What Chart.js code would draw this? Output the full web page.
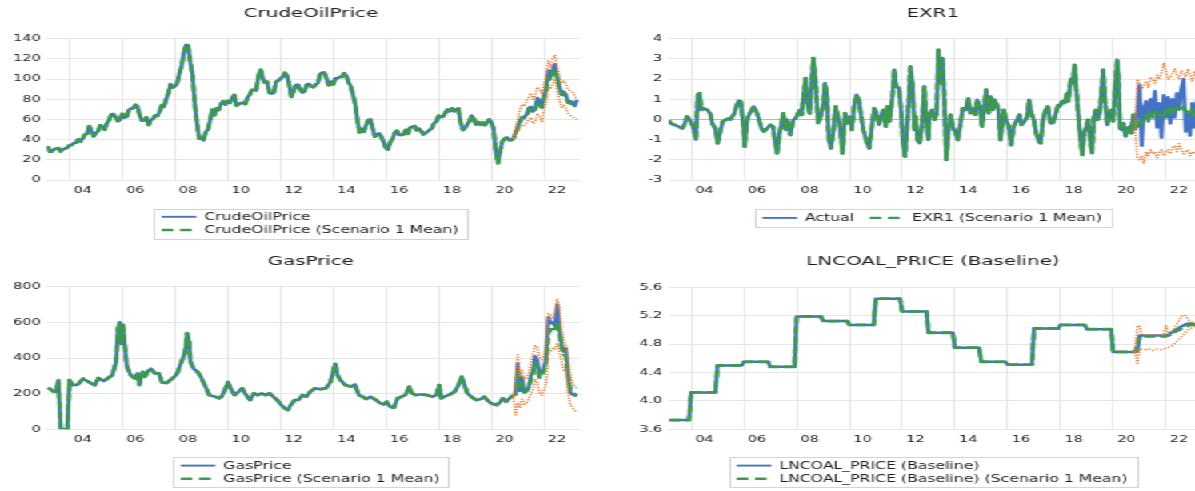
<!DOCTYPE html>
<html>
<head>
<meta charset="utf-8">
<title>Scenario 1 forecasts</title>
<script src="https://cdn.jsdelivr.net/npm/chart.js@4.4.1/dist/chart.umd.min.js"></script>
<style>
  html, body { margin: 0; padding: 0; background: #fff; overflow: hidden; width: 1195px; height: 491px; }
  #stage { position: absolute; left: 0; top: 0; width: 747px; height: 491px; transform-origin: 0 0; transform: scaleX(1.5997); }
  canvas { position: absolute; display: block; }
</style>
</head>
<body>
<div id="stage">
  <canvas id="oil" width="375" height="245" style="left:0;top:0"></canvas>
  <canvas id="exr" width="390" height="245" style="left:375px;top:0"></canvas>
  <canvas id="gas" width="375" height="246" style="left:0;top:245px"></canvas>
  <canvas id="coal" width="390" height="246" style="left:375px;top:245px"></canvas>
</div>
<script>
// ---------- axis ticks ----------
const gridYears  = [2004, 2006, 2008, 2010, 2012, 2014, 2016, 2018, 2020, 2022];
const tickLabels = ['04', '06', '08', '10', '12', '14', '16', '18', '20', '22'];
const oilTicks  = [0, 20, 40, 60, 80, 100, 120, 140];
const exrTicks  = [-3, -2, -1, 0, 1, 2, 3, 4];
const gasTicks  = [0, 200, 400, 600, 800];
const coalTicks = [3.6, 4.0, 4.4, 4.8, 5.2, 5.6];

// ---------- CrudeOilPrice: monthly, 2003M03 .. 2023M04 ----------
const oilActual = [
  33.5, 28.2, 28.1, 30.7, 30.8, 31.6, 28.3, 30.3, 31.1, 32.1,
  34.3, 34.7, 36.7, 36.8, 40.3, 38.0, 40.8, 44.9, 45.9, 53.3, 48.5, 43.2,
  46.8, 48.2, 54.2, 53.0, 49.8, 56.4, 59.0, 65.0, 65.6, 62.3, 58.3, 59.4,
  65.5, 61.6, 62.7, 69.4, 70.8, 71.0, 74.4, 73.0, 63.8, 58.9, 59.1, 62.0,
  54.5, 59.3, 60.4, 64.0, 63.5, 67.5, 74.1, 72.4, 79.9, 85.8, 94.8, 91.7,
  93.0, 95.4, 105.5, 112.6, 125.4, 133.9, 133.4, 116.7, 104.1, 76.6, 57.3, 41.1,
  41.7, 39.1, 47.9, 49.7, 59.0, 69.6, 64.2, 71.1, 69.4, 75.7, 78.0, 74.5,
  78.3, 76.4, 81.2, 84.3, 73.7, 75.3, 76.3, 76.6, 75.2, 81.9, 84.3, 89.2,
  89.2, 88.6, 102.9, 109.5, 100.9, 96.3, 97.3, 86.3, 85.5, 86.3, 97.2, 98.6,
  100.3, 102.2, 106.2, 103.3, 94.7, 82.3, 87.9, 94.1, 94.5, 89.5, 86.5, 87.9,
  94.8, 95.3, 92.9, 92.0, 94.5, 95.8, 104.7, 106.6, 106.3, 100.5, 93.9, 97.6,
  94.6, 100.8, 100.8, 102.1, 102.2, 105.8, 103.6, 96.5, 93.2, 84.4, 75.8, 59.3,
  47.2, 50.6, 47.8, 54.5, 59.3, 59.8, 50.9, 42.9, 45.5, 46.2, 42.4, 37.2,
  31.7, 30.3, 37.6, 40.8, 46.7, 48.8, 44.7, 44.7, 45.2, 49.8, 45.7, 52.0,
  52.5, 53.5, 49.3, 51.1, 48.5, 45.2, 46.6, 48.0, 49.8, 51.6, 56.6, 57.9,
  63.7, 62.2, 62.7, 66.3, 70.0, 67.9, 71.0, 68.1, 70.2, 70.8, 57.0, 49.5,
  51.4, 55.0, 58.2, 63.9, 60.8, 54.7, 57.4, 54.8, 57.0, 54.0, 57.0, 59.9,
  57.5, 50.5, 29.2, 16.6, 28.6, 38.3, 40.7, 42.3, 39.6, 39.4, 40.9, 47.0,
  52.0, 59.0, 62.3, 61.7, 65.2, 71.4, 72.5, 67.7, 71.5, 81.2, 78.7, 71.7,
  83.2, 91.6, 108.5, 101.8, 109.6, 114.8, 101.6, 93.7, 84.3, 87.6, 84.4, 76.4,
  78.1, 76.8, 73.3, 79.5
];
// Scenario 1 solution, monthly 2020M11 .. 2023M04
const oilMeanFc  = [41, 46, 51, 57, 61, 62, 64, 68, 70, 68, 70, 76, 77, 72, 80, 88, 102, 100, 106, 110, 100, 92, 85, 85, 83, 77, 76, 75, 73, 73];
const oilUpperFc = [41, 52, 60, 70, 75, 73, 78, 82, 86, 80, 84, 92, 90, 85, 95, 104, 118, 112, 120, 124, 112, 104, 96, 98, 95, 90, 88, 87, 83, 80];
const oilLowerFc = [41, 44, 48, 52, 55, 54, 57, 60, 62, 56, 58, 66, 63, 58, 68, 78, 92, 90, 96, 100, 88, 80, 72, 74, 71, 66, 64, 63, 61, 60];

// ---------- EXR1: history as [date, value], forecast monthly from 2020M11 ----------
const exrHist = [
  [2003.15,-0.05],[2003.23,-0.2],[2003.37,-0.27],[2003.52,-0.35],[2003.66,-0.44],[2003.74,-0.27],[2003.84,0.15],[2003.96,-0.05],
  [2004.07,-0.35],[2004.18,-1.0],[2004.25,1.22],[2004.32,1.3],[2004.39,0.47],[2004.47,0.55],[2004.61,0.47],[2004.72,0.3],[2004.80,-0.2],[2004.91,-0.44],
  [2005.01,-1.18],[2005.10,-0.6],[2005.20,-0.1],[2005.42,0.06],[2005.49,-0.02],[2005.56,0.15],[2005.64,0.3],[2005.71,0.64],[2005.80,0.93],[2005.88,0.89],[2005.97,-0.19],
  [2006.03,-1.35],[2006.12,0],[2006.22,0.3],[2006.37,0.64],[2006.47,0.39],[2006.56,0.06],[2006.66,-0.44],[2006.76,-0.6],[2006.88,-0.44],
  [2007.00,-0.27],[2007.10,-0.35],[2007.17,-1.02],[2007.26,-1.68],[2007.35,-0.68],[2007.43,-0.19],[2007.49,0.3],[2007.58,-0.52],[2007.64,-0.02],[2007.76,-0.77],[2007.87,-0.02],[2007.97,0.06],
  [2008.05,0.3],[2008.12,0.47],[2008.19,0.22],[2008.27,1.3],[2008.34,2.05],[2008.41,0.81],[2008.49,0.3],[2008.56,1.63],[2008.63,3.04],[2008.72,1.88],[2008.81,-0.19],[2008.89,0.06],
  [2009.00,0.64],[2009.07,1.8],[2009.14,1.3],[2009.22,-1.02],[2009.30,-1.43],[2009.39,-0.6],[2009.48,0.64],[2009.57,0.14],[2009.65,-0.44],[2009.74,-1.68],[2009.83,0.31],[2009.92,-0.19],
  [2010.02,0.14],[2010.09,-0.52],[2010.18,0.64],[2010.27,1.22],[2010.36,0.97],[2010.44,0.22],[2010.53,-0.52],[2010.65,-1.1],[2010.75,-1.43],[2010.85,-0.35],[2010.94,0.55],
  [2011.03,0.31],[2011.12,-0.27],[2011.20,0.14],[2011.29,0.47],[2011.38,-0.35],[2011.44,0.64],[2011.52,-0.1],[2011.63,1.13],[2011.70,2.46],[2011.77,1.63],[2011.88,1.55],[2011.96,0.47],
  [2012.02,-1.02],[2012.11,-1.84],[2012.20,-0.02],[2012.26,1.13],[2012.31,2.62],[2012.40,1.63],[2012.46,-0.52],[2012.52,0.14],[2012.58,-1.02],[2012.66,-1.18],[2012.75,-0.35],[2012.84,1.63],[2012.90,0.23],[2012.99,-1.02],
  [2013.04,0.31],[2013.13,0.47],[2013.23,-0.02],[2013.31,0.31],[2013.37,3.45],[2013.45,1.8],[2013.53,3.04],[2013.60,0.97],[2013.67,-2.0],[2013.75,-0.68],[2013.83,0.23],[2013.92,-0.35],
  [2014.01,-0.6],[2014.11,-1.02],[2014.21,-0.19],[2014.30,0.55],[2014.40,0.47],[2014.51,1.05],[2014.59,0.31],[2014.70,0.55],[2014.77,0.23],[2014.84,0.97],[2014.94,0.64],
  [2015.03,-0.35],[2015.10,0.47],[2015.18,1.47],[2015.28,0.31],[2015.35,1.13],[2015.43,0.47],[2015.50,0.97],[2015.57,0.81],[2015.65,0.47],[2015.72,-1.02],[2015.79,-0.35],[2015.86,0.47],[2015.94,-0.02],
  [2016.04,-0.35],[2016.13,-1.27],[2016.23,-0.35],[2016.35,-0.02],[2016.45,0.23],[2016.52,-0.27],[2016.64,-0.1],[2016.74,0.14],[2016.81,0.97],[2016.90,0.31],[2016.99,-0.02],
  [2017.08,-0.68],[2017.18,-1.1],[2017.25,-1.18],[2017.34,-0.02],[2017.43,0.47],[2017.52,0.64],[2017.62,-0.19],[2017.72,-0.19],[2017.81,0.23],[2017.91,0.72],[2017.98,0.64],
  [2018.06,0.89],[2018.16,0.81],[2018.25,1.3],[2018.30,0.89],[2018.39,2.0],[2018.45,1.8],[2018.54,2.7],[2018.61,1.38],[2018.68,0.23],[2018.76,-1.02],[2018.83,-1.76],[2018.89,-0.68],[2018.98,-0.35],
  [2019.05,-0.02],[2019.12,-1.02],[2019.20,-1.68],[2019.27,0.14],[2019.34,0.47],[2019.41,-0.02],[2019.49,0.31],[2019.56,1.47],[2019.62,2.46],[2019.71,0.64],[2019.78,-0.27],[2019.85,0.31],[2019.93,0.47],
  [2020.00,-0.1],[2020.07,1.47],[2020.15,2.96],[2020.20,2.13],[2020.26,-0.44],[2020.32,-0.52],[2020.39,-0.19],[2020.47,-0.85],[2020.54,-0.44],[2020.61,-0.35],[2020.69,-0.68],[2020.76,0.23]
];
const exrActualFc = [-0.5, 0.4, 1.7, -1.3, 0.6, 0.9, -0.1, 1.0, 0.3, 1.4, -0.4, 0.8, -0.9, 1.2, 0.1, 1.1, -0.2, 1.0, 0.1, 1.3, 0.5, 1.5, 2.0, -0.6, 0.3, -0.8, 0.8, -0.4, 0.9, -0.3];
const exrMeanFc   = [-0.5, -0.3, 0.0, -0.2, 0.1, 0.2, 0.0, 0.3, 0.1, 0.4, 0.2, 0.3, 0.1, 0.4, 0.3, 0.5, 0.3, 0.5, 0.4, 0.6, 0.5, 0.7, 0.6, 0.4, 0.5, 0.3, 0.5, 0.2, 0.4, 0.3];
const exrUpperFc  = [-0.5, 2.0, 1.8, 1.5, 1.7, 1.9, 1.6, 2.1, 2.0, 1.8, 2.2, 2.0, 2.3, 2.8, 2.4, 2.0, 2.1, 2.3, 2.5, 2.2, 2.0, 2.4, 2.3, 2.1, 2.5, 2.2, 1.9, 2.4, 2.1, 2.5];
const exrLowerFc  = [-0.5, -1.9, -2.0, -1.8, -2.2, -1.6, -1.8, -1.5, -1.7, -1.6, -1.9, -1.6, -1.5, -1.8, -1.6, -1.5, -1.7, -1.4, -1.3, -1.6, -1.2, -1.5, -1.7, -1.6, -1.5, -1.8, -1.6, -1.7, -1.6, -1.8];

// ---------- GasPrice ----------
const gasHist = [
  [2003.19,233],[2003.41,211],[2003.50,211],[2003.58,276],[2003.67,0],[2003.92,0],[2004.00,276],[2004.12,248],[2004.29,248],[2004.52,284],[2004.74,265],[2004.96,248],
  [2005.10,288],[2005.30,270],[2005.47,288],[2005.62,303],[2005.77,378],[2005.84,566],[2005.91,600],[2005.96,480],[2006.03,586],[2006.11,452],[2006.18,350],[2006.33,303],
  [2006.47,286],[2006.58,314],[2006.65,248],[2006.77,322],[2006.87,295],[2006.97,326],[2007.09,340],[2007.24,314],[2007.39,314],[2007.51,263],[2007.68,258],[2007.83,277],[2007.98,295],
  [2008.09,314],[2008.20,361],[2008.30,398],[2008.39,436],[2008.46,539],[2008.54,492],[2008.59,378],[2008.71,340],[2008.86,322],[2008.98,295],
  [2009.13,248],[2009.30,192],[2009.52,183],[2009.67,174],[2009.77,183],[2009.89,220],[2010.01,265],[2010.11,230],[2010.26,192],[2010.41,211],[2010.55,230],[2010.70,192],[2010.85,164],
  [2011.00,202],[2011.14,192],[2011.29,202],[2011.44,192],[2011.58,202],[2011.73,183],[2011.88,164],[2012.03,136],[2012.17,118],[2012.28,108],[2012.39,136],[2012.54,164],[2012.69,164],[2012.84,192],[2012.98,183],
  [2013.13,211],[2013.31,230],[2013.50,225],[2013.72,230],[2013.90,265],[2014.01,331],[2014.08,368],[2014.16,305],[2014.27,277],[2014.46,248],[2014.68,239],[2014.82,252],[2014.97,192],
  [2015.12,183],[2015.26,170],[2015.41,183],[2015.63,164],[2015.78,146],[2015.93,140],[2016.03,155],[2016.15,127],[2016.30,121],[2016.44,174],[2016.59,183],[2016.74,192],[2016.89,239],[2016.99,202],
  [2017.14,192],[2017.33,196],[2017.55,192],[2017.77,183],[2017.92,192],[2018.02,248],[2018.10,174],[2018.21,183],[2018.43,196],[2018.61,211],[2018.75,248],[2018.87,295],[2018.98,248],
  [2019.09,202],[2019.24,183],[2019.43,164],[2019.61,170],[2019.73,183],[2019.84,164],[2019.98,146],[2020.20,136],[2020.35,155],[2020.43,174],[2020.56,155],[2020.76,183]
];
const gasActualFc = [190, 200, 370, 215, 290, 205, 215, 235, 300, 330, 410, 385, 300, 320, 345, 400, 630, 595, 600, 580, 700, 570, 470, 435, 455, 285, 205, 195, 190, 185];
const gasMeanFc   = [190, 195, 330, 230, 260, 210, 215, 235, 280, 310, 370, 350, 290, 300, 330, 380, 540, 560, 560, 550, 600, 540, 460, 420, 410, 300, 220, 205, 195, 190];
const gasUpperFc  = [190, 260, 420, 300, 330, 280, 290, 310, 380, 420, 470, 460, 400, 390, 420, 470, 650, 640, 620, 660, 730, 690, 560, 500, 470, 400, 300, 260, 240, 230];
const gasLowerFc  = [190, 80, 150, 120, 170, 140, 150, 170, 200, 220, 280, 260, 200, 190, 220, 260, 430, 440, 460, 450, 480, 440, 380, 330, 340, 200, 140, 120, 105, 100];

// ---------- LNCOAL_PRICE (Baseline) ----------
const coalHist = [
  [2003.17,3.73],[2003.92,3.73],[2004.00,4.12],[2004.92,4.12],[2005.00,4.50],[2005.92,4.50],[2006.00,4.55],[2006.92,4.55],
  [2007.00,4.48],[2007.92,4.48],[2008.00,5.19],[2008.92,5.19],[2009.00,5.125],[2009.92,5.125],[2010.00,5.07],[2010.92,5.07],
  [2011.00,5.44],[2011.92,5.44],[2012.00,5.26],[2012.92,5.26],[2013.00,4.96],[2013.92,4.96],[2014.00,4.75],[2014.92,4.75],
  [2015.00,4.55],[2015.92,4.55],[2016.00,4.51],[2016.92,4.51],[2017.00,5.02],[2017.92,5.02],[2018.00,5.07],[2018.92,5.07],
  [2019.00,5.01],[2019.92,5.01],[2020.00,4.69],[2020.75,4.69]
];
const coalActualFc = [4.69, 4.69, 4.92, 4.92, 4.92, 4.92, 4.92, 4.92, 4.92, 4.92, 4.92, 4.92, 4.92, 4.92, 4.92, 4.93, 4.95, 4.97, 4.99, 5.01, 5.03, 5.05, 5.06, 5.08, 5.09, 5.09, 5.09, 5.08, 5.07, 5.07];
const coalMeanFc   = [4.69, 4.80, 4.90, 4.91, 4.91, 4.91, 4.91, 4.91, 4.91, 4.91, 4.91, 4.91, 4.91, 4.91, 4.91, 4.92, 4.93, 4.95, 4.97, 4.99, 5.00, 5.02, 5.03, 5.05, 5.06, 5.07, 5.07, 5.07, 5.06, 5.06];
const coalUpperFc  = [4.69, 5.06, 5.05, 4.93, 4.93, 4.93, 4.93, 4.93, 4.93, 4.93, 4.93, 4.93, 4.93, 4.93, 5.06, 4.95, 4.97, 4.99, 5.03, 5.08, 5.13, 5.19, 5.21, 5.20, 5.15, 5.12, 5.11, 5.10, 5.09, 5.08];
const coalLowerFc  = [4.69, 4.53, 4.74, 4.73, 4.73, 4.72, 4.73, 4.72, 4.71, 4.72, 4.73, 4.72, 4.72, 4.73, 4.74, 4.75, 4.76, 4.78, 4.81, 4.84, 4.87, 4.90, 4.93, 4.97, 5.00, 5.02, 5.03, 5.04, 5.04, 5.05];

// ---------- helpers ----------
const T_MIN = 2003.15, T_MAX = 2023.36;
const FC_START = [2020, 11];
const monthly = (y, m, vals) => vals.map((v, i) => ({ x: y + (m - 1 + i) / 12, y: v }));
const pairs = arr => arr.map(([x, y]) => ({ x, y }));
const fc = vals => monthly(FC_START[0], FC_START[1], vals);
const before = (pts, t) => pts.filter(p => p.x < t - 1e-6);

const FONT = '"DejaVu Sans", "Verdana", sans-serif';
const BLUE = '#4472C4', GREEN = '#3C9A4C', ORANGE = '#ED7D31';
const GRID = '#e6e6e6', ZERO = '#b8b8b8', TEXT = '#1c1c1c';
const GREEN_DASH = [7, 3], LEG_GREEN_DASH = [7.3, 4.2], DOT = [1.3, 1.4];
Chart.defaults.font.family = FONT;

// Title and framed legend drawn on the canvas
const panelDecor = {
  id: 'panelDecor',
  afterDraw(chart, _args, o) {
    const ctx = chart.ctx;
    ctx.save();
    ctx.fillStyle = TEXT;
    ctx.textAlign = 'center';
    ctx.textBaseline = 'middle';
    ctx.font = `12.4px ${FONT}`;
    ctx.fillText(o.title, o.cx, o.titleY);

    const items = chart.data.datasets.filter(d => d.legendRank !== undefined)
      .sort((a, b) => a.legendRank - b.legendRank);
    ctx.font = `9.8px ${FONT}`;
    const w = items.map(d => ctx.measureText(d.label).width);
    const PADL = 4.8, PADR = 5.8, LINE = 21.7, GAP = 5, ITEMGAP = 9.6;
    let boxW, boxH;
    if (o.inline) {
      boxW = PADL + PADR + items.reduce((s, d, i) => s + LINE + GAP + w[i], 0) + ITEMGAP * (items.length - 1);
      boxH = 17.5;
    } else {
      boxW = PADL + LINE + GAP + Math.max(...w) + PADR;
      boxH = 30;
    }
    const bx = o.cx - boxW / 2, by = o.legendTop;
    ctx.fillStyle = '#fff';
    ctx.fillRect(bx, by, boxW, boxH);
    ctx.strokeStyle = '#d4d4d4';
    ctx.lineWidth = 1;
    ctx.strokeRect(Math.round(bx) + 0.5, Math.round(by) + 0.5, Math.round(boxW), Math.round(boxH));

    ctx.textAlign = 'left';
    let x = bx + PADL;
    items.forEach((d, i) => {
      const y = o.inline ? by + 8.6 : by + 8.3 + i * 13.2;
      const lx = o.inline ? x : bx + PADL;
      ctx.beginPath();
      ctx.strokeStyle = d.borderColor;
      ctx.lineWidth = d.legendWidth;
      ctx.setLineDash(d.legendDash || []);
      ctx.moveTo(lx, y);
      ctx.lineTo(lx + LINE, y);
      ctx.stroke();
      ctx.setLineDash([]);
      ctx.fillStyle = TEXT;
      ctx.fillText(d.label, lx + LINE + GAP, y + 0.5);
      x = lx + LINE + GAP + w[i] + ITEMGAP;
    });
    ctx.restore();
  }
};

function makePanel(id, p) {
  const canvas = document.getElementById(id);
  const W = canvas.width, H = canvas.height;
  const XLAB_H = 20;
  const tickFont = { family: FONT, size: 9 };
  return new Chart(canvas, {
    type: 'line',
    data: {
      datasets: [
        { label: 'upper', data: p.upper, borderColor: ORANGE, borderWidth: 1.5, borderDash: DOT, order: 0 },
        { label: 'lower', data: p.lower, borderColor: ORANGE, borderWidth: 1.5, borderDash: DOT, order: 0 },
        { label: p.names[1], data: p.mean, borderColor: GREEN, borderWidth: 2.8, borderDash: GREEN_DASH, order: 1,
          legendRank: 1, legendWidth: 2.4, legendDash: LEG_GREEN_DASH },
        { label: p.names[0], data: p.actual, borderColor: BLUE, borderWidth: 2.5, order: 2,
          legendRank: 0, legendWidth: 1.9 }
      ].map(d => Object.assign(d, { xAxisID: 'x', yAxisID: 'y', pointRadius: 0, tension: 0, fill: false, borderJoinStyle: 'round' }))
    },
    options: {
      responsive: false,
      animation: false,
      events: [],
      layout: { padding: { left: 0, right: W - p.plotRight, top: p.plotTop, bottom: H - p.plotBottom - XLAB_H } },
      plugins: {
        legend: { display: false },
        tooltip: { enabled: false },
        panelDecor: { title: p.title, cx: p.cx, titleY: p.titleY, legendTop: p.legendTop, inline: p.inline }
      },
      scales: {
        x: {
          type: 'linear', axis: 'x', position: 'bottom', weight: 0, min: T_MIN, max: T_MAX,
          grid: { color: GRID, lineWidth: 1, drawTicks: false },
          border: { display: false },
          ticks: { display: false },
          afterBuildTicks: s => { s.ticks = gridYears.map(v => ({ value: v })); },
          afterFit: s => { s.height = 0; }
        },
        xl: {
          type: 'linear', axis: 'x', position: 'bottom', weight: 1, min: T_MIN, max: T_MAX,
          grid: { display: false, drawTicks: false },
          border: { display: false },
          ticks: { font: tickFont, color: TEXT, padding: 5, autoSkip: false, maxRotation: 0, minRotation: 0,
                   callback: (v, i) => tickLabels[i] },
          afterBuildTicks: s => { s.ticks = gridYears.map(v => ({ value: v + 0.5 })); },
          afterFit: s => { s.height = XLAB_H; }
        },
        y: {
          type: 'linear', position: 'left', min: p.yTicks[0], max: p.yTicks[p.yTicks.length - 1],
          grid: { color: c => (p.zeroLine && c.tick && c.tick.value === 0) ? ZERO : GRID, lineWidth: 1, drawTicks: false },
          border: { display: false },
          ticks: { font: tickFont, color: TEXT, padding: 4, autoSkip: false,
                   callback: v => p.decimals ? Number(v).toFixed(p.decimals) : String(v) },
          afterBuildTicks: s => { s.ticks = p.yTicks.map(v => ({ value: v })); },
          afterFit: s => { s.width = p.plotLeft; }
        }
      }
    },
    plugins: [panelDecor]
  });
}

// ---------- series assembly ----------
const oilAct = monthly(2003, 3, oilActual);
const fcT = FC_START[0] + (FC_START[1] - 1) / 12;

const LEFT  = { plotLeft: 29.4, plotRight: 362.5, cx: 194.3 };
const RIGHT = { plotLeft: 43.1, plotRight: 376.25, cx: 208.2 };
const TOP    = { plotTop: 38.7, plotBottom: 180, titleY: 14 };
const BOTTOM = { plotTop: 41.7, plotBottom: 184.3, titleY: 16.7 };

makePanel('oil', Object.assign({}, LEFT, TOP, {
  title: 'CrudeOilPrice', names: ['CrudeOilPrice', 'CrudeOilPrice (Scenario 1 Mean)'],
  actual: oilAct,
  mean: before(oilAct, fcT).concat(fc(oilMeanFc)),
  upper: fc(oilUpperFc), lower: fc(oilLowerFc),
  yTicks: oilTicks, legendTop: 208.5, inline: false
}));

const exrH = pairs(exrHist);
makePanel('exr', Object.assign({}, RIGHT, TOP, {
  title: 'EXR1', names: ['Actual', 'EXR1 (Scenario 1 Mean)'],
  actual: exrH.concat(fc(exrActualFc)),
  mean: exrH.concat(fc(exrMeanFc)),
  upper: fc(exrUpperFc), lower: fc(exrLowerFc),
  yTicks: exrTicks, zeroLine: true, legendTop: 209.3, inline: true
}));

const gasH = pairs(gasHist);
makePanel('gas', Object.assign({}, LEFT, BOTTOM, {
  title: 'GasPrice', names: ['GasPrice', 'GasPrice (Scenario 1 Mean)'],
  actual: gasH.concat(fc(gasActualFc)),
  mean: gasH.concat(fc(gasMeanFc)),
  upper: fc(gasUpperFc), lower: fc(gasLowerFc),
  yTicks: gasTicks, legendTop: 212.3, inline: false
}));

const coalH = pairs(coalHist);
makePanel('coal', Object.assign({}, RIGHT, BOTTOM, {
  plotTop: 42.3,
  title: 'LNCOAL_PRICE (Baseline)', names: ['LNCOAL_PRICE (Baseline)', 'LNCOAL_PRICE (Baseline) (Scenario 1 Mean)'],
  actual: coalH.concat(fc(coalActualFc)),
  mean: coalH.concat(fc(coalMeanFc)),
  upper: fc(coalUpperFc), lower: fc(coalLowerFc),
  yTicks: coalTicks, decimals: 1, legendTop: 212.3, inline: false
}));
</script>
</body>
</html>
